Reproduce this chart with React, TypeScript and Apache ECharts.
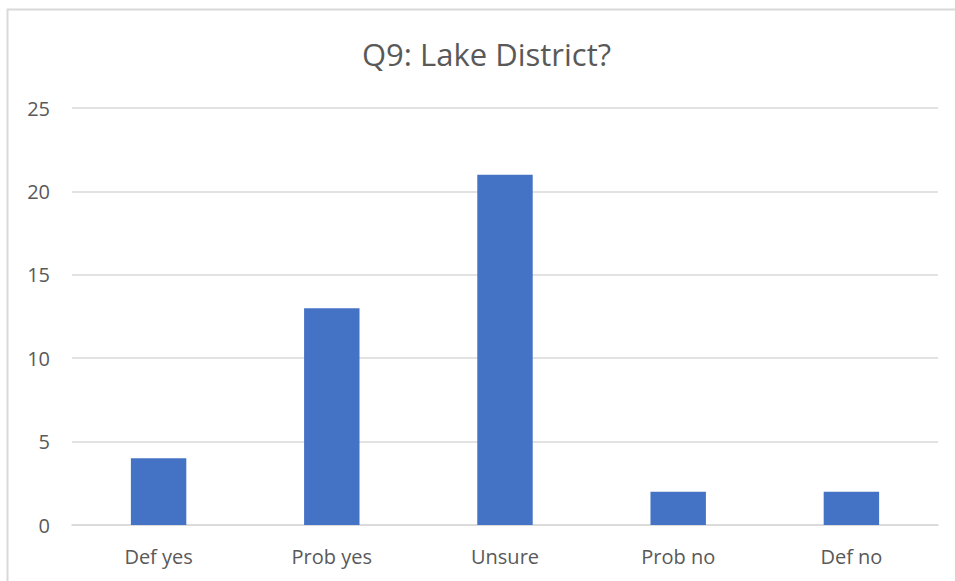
import React, { useEffect, useRef } from "react";
import * as echarts from "echarts";

const categories = ["Def yes", "Prob yes", "Unsure", "Prob no", "Def no"];
const values = [4, 13, 21, 2, 2];
const titleText = "Q9: Lake District?";

export default function App() {
  const ref = useRef<HTMLDivElement>(null);
  useEffect(() => {
    if (!ref.current) return;
    const chart = echarts.init(ref.current, undefined, { renderer: "svg" });
    chart.setOption({
      animation: false,
      backgroundColor: "#ffffff",
      title: {
        text: titleText,
        left: 362,
        top: 38,
        padding: 0,
        textStyle: { fontFamily: "Open Sans", fontSize: 31, fontWeight: "normal", color: "#595959" },
      },
      graphic: [
        {
          type: "rect",
          shape: { x: 7.5, y: 9.5, width: 1000, height: 700 },
          style: { fill: "none", stroke: "#d9d9d9", lineWidth: 2 },
          silent: true,
        },
      ],
      grid: { left: 72, right: 17, top: 108, bottom: 56, containLabel: false },
      xAxis: {
        type: "category",
        data: categories,
        axisLine: { show: true, lineStyle: { color: "#d9d9d9", width: 1.5 } },
        axisTick: { show: false },
        axisLabel: { color: "#595959", fontFamily: "Open Sans", fontSize: 20, margin: 21 },
      },
      yAxis: {
        type: "value",
        min: 0,
        max: 25,
        interval: 5,
        axisLine: { show: false },
        axisTick: { show: false },
        splitLine: { lineStyle: { color: "#d9d9d9", width: 1.5 } },
        axisLabel: { color: "#595959", fontFamily: "Open Sans", fontSize: 20, margin: 22 },
      },
      series: [
        {
          type: "bar",
          data: values,
          barWidth: "32%",
          itemStyle: { color: "#4472c4" },
        },
      ],
    });
    return () => chart.dispose();
  }, []);
  return <div ref={ref} style={{ position: "absolute", left: 0, top: 0, width: 955, height: 581 }} />;
}
